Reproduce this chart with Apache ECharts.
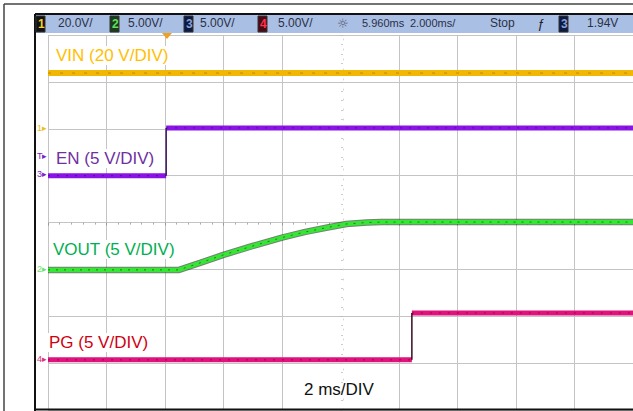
<!DOCTYPE html>
<html>
<head>
<meta charset="utf-8">
<script src="https://cdn.jsdelivr.net/npm/echarts@6/dist/echarts.min.js"></script>
<style>
  html, body { margin: 0; padding: 0; background: #fff; }
  #scope { width: 633px; height: 411px; }
</style>
</head>
<body>
<div id="scope"></div>
<script>
// time in divisions (2 ms/DIV), voltage in divisions from the bottom of the screen
var vinT = [0, 10];
var vinV = [7.19, 7.19];

var enT = [0, 2.02, 2.02, 10];
var enV = [5.0, 5.0, 6.02, 6.02];

var voutT = [0, 2.24, 2.6, 3.0, 3.5, 4.0, 4.4, 4.8, 5.1, 5.45, 5.7, 10];
var voutV = [2.99, 2.99, 3.14, 3.31, 3.5, 3.68, 3.8, 3.9, 3.97, 4.0, 4.01, 4.01];

var pgT = [0, 6.22, 6.22, 10];
var pgV = [1.07, 1.07, 2.07, 2.07];

var traceLabels = ['VIN (20 V/DIV)', 'EN (5 V/DIV)', 'VOUT (5 V/DIV)', 'PG (5 V/DIV)'];
var timeLabel = '2 ms/DIV';
var scaleLabels = ['20.0V/', '5.00V/', '5.00V/', '5.00V/'];
var statusLabels = ['5.960ms', '2.000ms/', 'Stop', 'ƒ', '1.94V'];

function pts(t, v) {
    return t.map(function (x, i) { return [x, v[i]]; });
}

// split a step trace into flat levels (thick) and fast edges (thin)
function levels(t, v) {
    var out = [];
    for (var i = 0; i < t.length; i++) {
        if (i > 0 && t[i] === t[i - 1]) out.push([t[i], '-']);
        out.push([t[i], v[i]]);
    }
    return out;
}
function edges(t, v) {
    var out = [];
    for (var i = 1; i < t.length; i++) {
        if (t[i] === t[i - 1]) {
            if (out.length) out.push([t[i], '-']);
            out.push([t[i - 1], v[i - 1]], [t[i], v[i]]);
        }
    }
    return out;
}

function trace(data, color, width, z, dash) {
    return {
        type: 'line',
        data: data,
        symbol: 'none',
        silent: true,
        connectNulls: false,
        z: z,
        lineStyle: { color: color, width: width, type: dash || 'solid', cap: 'butt' }
    };
}

var chart = echarts.init(document.getElementById('scope'), null, { renderer: 'svg' });

var gridCol = '#c4c4c4';
var hdrFont = 'Liberation Sans, Arial, sans-serif';

function hdrText(x, s, color, font) {
    return { type: 'text', left: x, top: 17, z: 22,
        style: { text: s, fill: color || '#2b2f45', font: font || ('12px ' + hdrFont) } };
}
function hdrBox(x, n, bg, fg) {
    return [
        { type: 'rect', z: 22, shape: { x: x, y: 16, width: 9, height: 16 }, style: { fill: bg, stroke: '#333', lineWidth: 1 } },
        { type: 'text', z: 23, x: x + 2, y: 18, style: { text: n, fill: fg, font: 'bold 12px ' + hdrFont } }
    ];
}
function marker(y, s, color) {
    return { type: 'text', left: 37, top: y - 6, z: 20,
        style: { text: s + '\u25B8', fill: color, font: '9px ' + hdrFont } };
}
function label(x, y, s, color) {
    return { type: 'text', left: x, top: y - 10, z: 30,
        style: { text: s, fill: color, font: '17px Liberation Sans, Arial, sans-serif',
            backgroundColor: '#fff', padding: [1, 2] } };
}

var graphics = [
    // outer frame
    { type: 'line', shape: { x1: 4, y1: 4, x2: 633, y2: 4 }, style: { stroke: '#444', lineWidth: 1.5 }, z: 20 },
    { type: 'line', shape: { x1: 4, y1: 4, x2: 4, y2: 411 }, style: { stroke: '#444', lineWidth: 1.5 }, z: 20 },
    // screen frame and header bar
    { type: 'rect', shape: { x: 36, y: 15, width: 600, height: 18 }, style: { fill: '#a9bfe4' }, z: 19 },
    { type: 'line', shape: { x1: 35, y1: 14, x2: 633, y2: 14 }, style: { stroke: '#111', lineWidth: 2 }, z: 21 },
    { type: 'line', shape: { x1: 35, y1: 14, x2: 35, y2: 411 }, style: { stroke: '#111', lineWidth: 2 }, z: 21 },
    { type: 'line', shape: { x1: 35, y1: 409.5, x2: 633, y2: 409.5 }, style: { stroke: '#111', lineWidth: 2 }, z: 21 },
    hdrText(58, scaleLabels[0]),
    hdrText(128, scaleLabels[1]),
    hdrText(200, scaleLabels[2]),
    hdrText(278, scaleLabels[3]),
    hdrText(337, '\u263C', '#5a5a70', '13px DejaVu Sans, sans-serif'),
    hdrText(362, statusLabels[0], null, '11px ' + hdrFont),
    hdrText(410, statusLabels[1], null, '11px ' + hdrFont),
    hdrText(490, statusLabels[2]),
    hdrText(537, statusLabels[3], '#222', 'italic 13px ' + hdrFont),
    hdrText(587, statusLabels[4]),
    // trigger position marker
    { type: 'polygon', shape: { points: [[162, 33], [172, 33], [167, 39]] }, style: { fill: '#f0a020' }, z: 22 },
    // channel ground / trigger level markers
    marker(129, '1', '#e8c020'),
    marker(157, 'T', '#7a22c8'),
    marker(175, '3', '#7a22c8'),
    marker(270, '2', '#6ee06e'),
    marker(360, '4', '#d8307a'),
    // trace labels
    label(54, 56, traceLabels[0], '#ffc000'),
    label(54, 159, traceLabels[1], '#7030a0'),
    label(51, 250, traceLabels[2], '#00b050'),
    label(47, 343, traceLabels[3], '#d00010'),
    { type: 'text', left: 304, top: 381, z: 30,
      style: { text: timeLabel, fill: '#111', font: '17px Liberation Sans, Arial, sans-serif' } }
].concat(
    hdrBox(36, '1', '#111', '#f2d030'),
    hdrBox(110, '2', '#1c3a1c', '#5ee05e'),
    hdrBox(184, '3', '#0c1a40', '#8aa0d8'),
    hdrBox(258, '4', '#4a0a14', '#ff3050'),
    hdrBox(559, '3', '#0c1a40', '#8aa0d8')
);

var option = {
    animation: false,
    backgroundColor: '#fff',
    grid: { left: 48, right: -5, top: 35.1, bottom: 1 },
    xAxis: [{
        type: 'value', min: 0, max: 10, interval: 1,
        axisLine: { show: false }, axisTick: { show: false }, axisLabel: { show: false },
        splitLine: { show: true, lineStyle: { color: [gridCol, gridCol, gridCol, gridCol, gridCol, 'rgba(0,0,0,0)', gridCol, gridCol, gridCol, gridCol, gridCol], width: 1 } }
    }, {
        type: 'value', min: 0, max: 10, interval: 1, position: 'bottom', offset: -187.4,
        axisLine: { show: false }, axisLabel: { show: false },
        axisTick: { show: true, length: 3, lineStyle: { color: '#999' } },
        minorTick: { show: true, splitNumber: 5, length: 2, lineStyle: { color: '#aaa' } },
        splitLine: { show: false }
    }],
    yAxis: [{
        type: 'value', min: 0, max: 8, interval: 1,
        axisLine: { show: false }, axisTick: { show: false }, axisLabel: { show: false },
        splitLine: { show: true, lineStyle: { color: gridCol, width: 1 } }
    }, {
        type: 'value', min: 0, max: 8, interval: 1, position: 'left', offset: -295,
        axisLine: { show: true, lineStyle: { color: '#d6d6d6', type: [1, 9] } },
        axisLabel: { show: false },
        axisTick: { show: true, length: 3, lineStyle: { color: '#bbb' } },
        minorTick: { show: true, splitNumber: 5, length: 2, lineStyle: { color: '#ccc' } },
        splitLine: { show: false }
    }],
    series: [
        trace(pts(vinT, vinV), '#f2b705', 6, 3),
        trace(pts(vinT, vinV), 'rgba(120,90,0,0.45)', 1, 4, [3, 9]),

        trace(levels(enT, enV), '#8a14e6', 5, 3),
        trace(levels(enT, enV), 'rgba(40,0,70,0.5)', 1, 4, [2, 7]),
        trace(edges(enT, enV), '#3a1060', 1.5, 3),

        trace(pts(voutT, voutV), 'rgba(25,45,20,0.6)', 6.5, 2),
        trace(pts(voutT, voutV), '#35e635', 4.5, 3),
        trace(pts(voutT, voutV), 'rgba(20,40,10,0.55)', 1, 4, [2, 6]),

        trace(levels(pgT, pgV), '#e0137c', 5, 3),
        trace(levels(pgT, pgV), 'rgba(80,0,30,0.5)', 1, 4, [2, 7]),
        trace(edges(pgT, pgV), '#3a0a20', 1.5, 3)
    ],
    graphic: graphics
};

chart.setOption(option);
</script>
</body>
</html>
